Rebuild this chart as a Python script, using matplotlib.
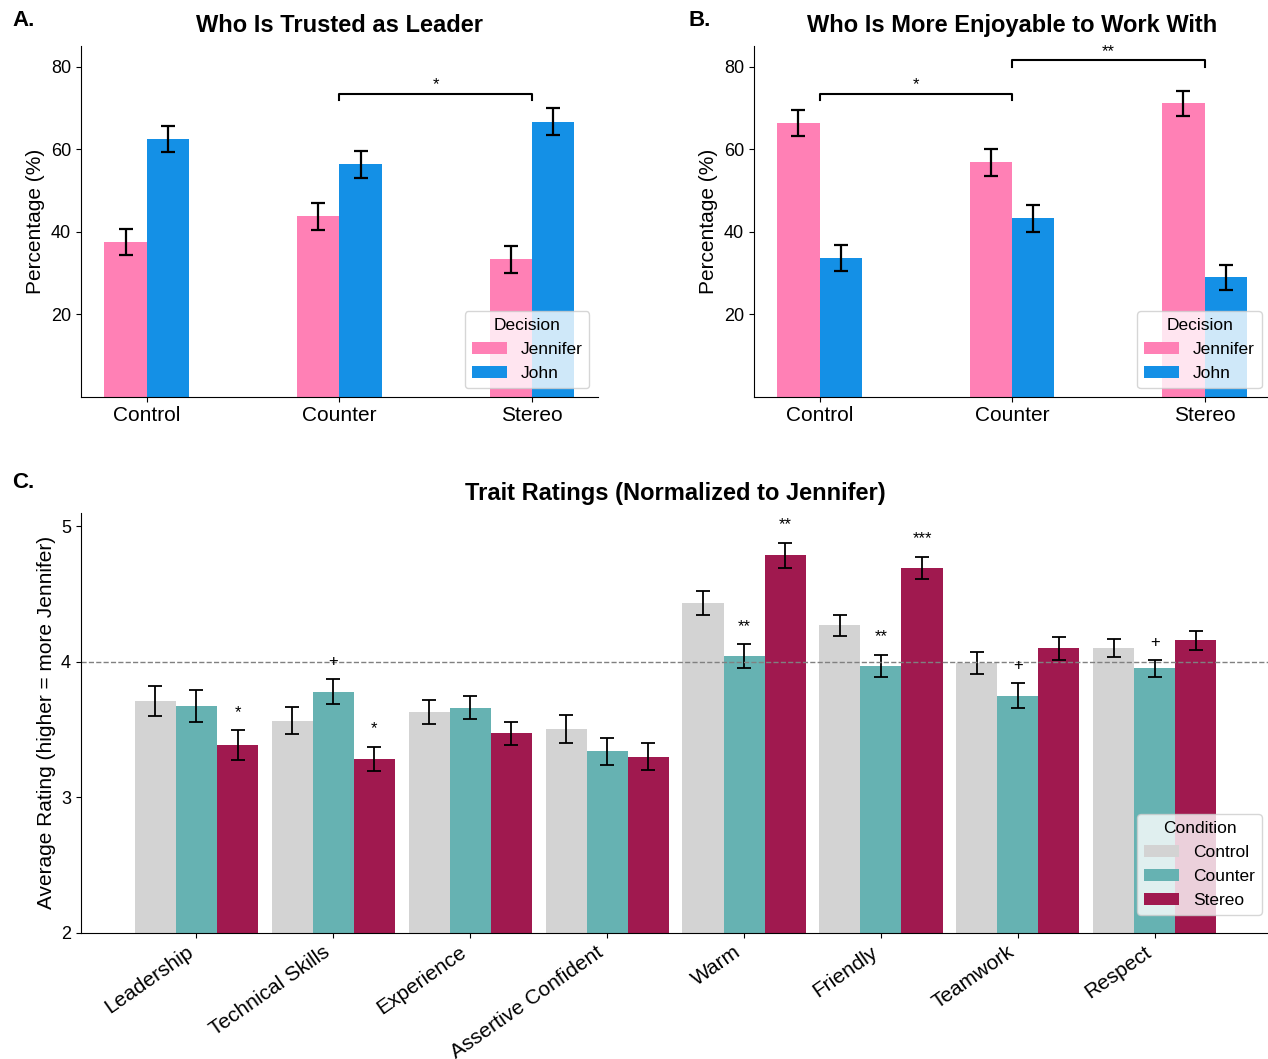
import matplotlib
matplotlib.use("Agg")
import matplotlib.pyplot as plt
import numpy as np

plt.rcParams['font.family'] = ['Liberation Sans', 'DejaVu Sans']

# panel A / B data
conditions = ['Control', 'Counter', 'Stereo']
decisions = ['Jennifer', 'John']
leader_pct = {'Jennifer': [37.5, 43.7, 33.3], 'John': [62.5, 56.3, 66.7]}
leader_err = {'Jennifer': [3.2, 3.3, 3.2], 'John': [3.2, 3.3, 3.2]}
enjoy_pct = {'Jennifer': [66.4, 56.8, 71.1], 'John': [33.6, 43.2, 28.9]}
enjoy_err = {'Jennifer': [3.2, 3.3, 3.1], 'John': [3.1, 3.3, 3.1]}

# panel C data
traits = ['Leadership', 'Technical Skills', 'Experience', 'Assertive Confident',
          'Warm', 'Friendly', 'Teamwork', 'Respect']
rating_control = [3.71, 3.565, 3.63, 3.505, 4.432, 4.27, 3.99, 4.10]
rating_counter = [3.67, 3.78, 3.66, 3.34, 4.042, 3.97, 3.748, 3.953]
rating_stereo = [3.385, 3.285, 3.472, 3.30, 4.787, 4.695, 4.098, 4.158]
err_control = [0.11, 0.10, 0.087, 0.105, 0.087, 0.078, 0.084, 0.066]
err_counter = [0.118, 0.092, 0.086, 0.10, 0.088, 0.083, 0.093, 0.062]
err_stereo = [0.108, 0.089, 0.086, 0.10, 0.092, 0.081, 0.088, 0.071]
sig_counter = ['', '+', '', '', '**', '**', '+', '+']
sig_stereo = ['*', '*', '', '', '**', '***', '', '']

dec_colors = {'Jennifer': '#FF80B5', 'John': '#1490E6'}
cond_colors = {'Control': '#D3D3D3', 'Counter': '#66B2B2', 'Stereo': '#A0194F'}

W, H = 1268, 1059
fig = plt.figure(figsize=(W / 100, H / 100), dpi=100)


def px_axes(left, top, right, bottom):
    return fig.add_axes([left / W, 1 - bottom / H, (right - left) / W, (bottom - top) / H])


def bracket(ax, x1, x2, h, label, drop=1.6):
    ax.plot([x1, x1, x2, x2], [h - drop, h, h, h - drop], color='black', lw=1.5, clip_on=False)
    ax.text((x1 + x2) / 2, h + 0.4, label, ha='center', va='bottom', fontsize=12, clip_on=False)


def decision_panel(ax, pct, err, title):
    x = np.arange(len(conditions))
    bw = 0.22
    for i, d in enumerate(decisions):
        ax.bar(x + (i - 0.5) * bw, pct[d], width=bw, color=dec_colors[d], label=d,
               yerr=err[d], capsize=5,
               error_kw=dict(elinewidth=1.6, capthick=1.6, ecolor='black'))
    ax.set_xticks(x)
    ax.set_xticklabels(conditions, fontsize=15)
    ax.set_ylim(0, 85)
    ax.set_yticks([20, 40, 60, 80])
    ax.tick_params(axis='y', labelsize=13)
    ax.set_ylabel('Percentage (%)', fontsize=15)
    ax.set_title(title, fontsize=17, fontweight='bold', pad=10)
    ax.spines['top'].set_visible(False)
    ax.spines['right'].set_visible(False)
    ax.legend(title='Decision', loc='lower right', fontsize=12.5, title_fontsize=12.5)


axA = px_axes(80.8, 46, 598, 396.7)
decision_panel(axA, leader_pct, leader_err, 'Who Is Trusted as Leader')
bracket(axA, 1, 2, 73.4, '*')

axB = px_axes(753.7, 46, 1270.5, 396.7)
decision_panel(axB, enjoy_pct, enjoy_err, 'Who Is More Enjoyable to Work With')
bracket(axB, 0, 1, 73.4, '*')
bracket(axB, 1, 2, 81.5, '**')

axC = px_axes(80.8, 512.7, 1270.4, 932.7)
x = np.arange(len(traits))
bw = 0.3
series = [('Control', rating_control, err_control, None),
          ('Counter', rating_counter, err_counter, sig_counter),
          ('Stereo', rating_stereo, err_stereo, sig_stereo)]
for i, (name, vals, errs, sig) in enumerate(series):
    xs = x + (i - 1) * bw
    axC.bar(xs, vals, width=bw, color=cond_colors[name], label=name,
            yerr=errs, capsize=5,
            error_kw=dict(elinewidth=1.3, capthick=1.3, ecolor='black'))
    if sig is not None:
        for xi, v, e, s in zip(xs, vals, errs, sig):
            if s:
                axC.text(xi, v + e + 0.075, s, ha='center', va='bottom', fontsize=12)
axC.axhline(4, color='gray', ls='--', lw=1)
axC.set_ylim(2, 5.1)
axC.set_yticks([2, 3, 4, 5])
axC.tick_params(axis='y', labelsize=13)
axC.set_xticks(x)
axC.set_xticklabels(traits, rotation=35, ha='right', fontsize=15)
axC.set_ylabel('Average Rating (higher = more Jennifer)', fontsize=15)
axC.set_title('Trait Ratings (Normalized to Jennifer)', fontsize=17, fontweight='bold', pad=9)
axC.spines['top'].set_visible(False)
axC.spines['right'].set_visible(False)
axC.legend(title='Condition', loc='lower right', bbox_to_anchor=(1, 0.022),
           fontsize=12.5, title_fontsize=12.5)

fig.text(12 / W, 1 - 20 / H, 'A.', fontsize=16, fontweight='bold', va='center')
fig.text(688 / W, 1 - 20 / H, 'B.', fontsize=16, fontweight='bold', va='center')
fig.text(12 / W, 1 - 482 / H, 'C.', fontsize=16, fontweight='bold', va='center')

fig.savefig('out.png', dpi=100)
